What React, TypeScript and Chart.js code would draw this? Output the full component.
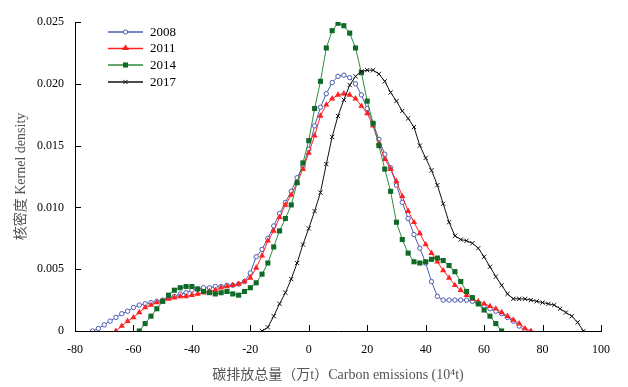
import { useEffect, useRef } from 'react';
import { Chart, registerables } from 'chart.js';

Chart.register(...registerables);

// ---- data (x: carbon emissions 10^4 t, y: kernel density) ----
const SERIES_NAMES = ['2008', '2011', '2014', '2017'];
const X_MIN = -80;
const X_MAX = 100;
const X_STEP = 20;
const Y_MIN = 0;
const Y_MAX = 0.025;
const Y_STEP = 0.005;

const D2008: [number, number][] = [
  [-74, 0], [-72, 0.0002], [-70, 0.0005], [-68, 0.0008], [-66, 0.0011], [-64, 0.0014], [-62, 0.0016],
  [-60, 0.0019], [-58, 0.0021], [-56, 0.0022], [-54, 0.0023], [-52, 0.0024], [-50, 0.0025], [-48, 0.0027],
  [-46, 0.0028], [-44, 0.003], [-42, 0.0031], [-40, 0.0033], [-38, 0.0034], [-36, 0.0035], [-34, 0.0035],
  [-32, 0.0036], [-30, 0.0036], [-28, 0.0037], [-26, 0.0037], [-24, 0.0038], [-22, 0.004], [-20, 0.0047],
  [-18, 0.006], [-16, 0.0066], [-14, 0.0075], [-12, 0.0085], [-10, 0.0095], [-8, 0.0104], [-6, 0.0113],
  [-4, 0.0124], [-2, 0.0133], [0, 0.0147], [2, 0.0166], [4, 0.0181], [6, 0.0192], [8, 0.0201], [10, 0.0206],
  [12, 0.0207], [14, 0.0205], [16, 0.02], [18, 0.0191], [20, 0.018], [22, 0.0168], [24, 0.0155], [26, 0.0143],
  [28, 0.0132], [30, 0.0118], [32, 0.0104], [34, 0.0091], [36, 0.0078], [38, 0.0067], [40, 0.0055], [42, 0.004],
  [44, 0.0028], [46, 0.0025], [48, 0.0025], [50, 0.0025], [52, 0.0025], [54, 0.0025], [56, 0.0024], [58, 0.0022],
  [60, 0.002], [62, 0.0018], [64, 0.0016], [66, 0.0014], [68, 0.0011], [70, 0.0008], [72, 0.0004], [74, 0],
];

const D2011: [number, number][] = [
  [-66, 0], [-64, 0.0004], [-62, 0.0008], [-60, 0.0011], [-58, 0.0015], [-56, 0.0019], [-54, 0.0021],
  [-52, 0.0023], [-50, 0.0024], [-48, 0.0026], [-46, 0.0027], [-44, 0.0028], [-42, 0.0028], [-40, 0.0029],
  [-38, 0.003], [-36, 0.0031], [-34, 0.0032], [-32, 0.0033], [-30, 0.0035], [-28, 0.0036], [-26, 0.0037],
  [-24, 0.0038], [-22, 0.004], [-20, 0.0043], [-18, 0.0051], [-16, 0.0061], [-14, 0.0073], [-12, 0.0081],
  [-10, 0.0092], [-8, 0.0102], [-6, 0.011], [-4, 0.012], [-2, 0.0131], [0, 0.0144], [2, 0.0158], [4, 0.0174],
  [6, 0.0183], [8, 0.0188], [10, 0.0191], [12, 0.0192], [14, 0.0191], [16, 0.0188], [18, 0.0182], [20, 0.0176],
  [22, 0.0166], [24, 0.0152], [26, 0.0139], [28, 0.0131], [30, 0.0121], [32, 0.0109], [34, 0.0097], [36, 0.0088],
  [38, 0.0079], [40, 0.007], [42, 0.0063], [44, 0.0056], [46, 0.0049], [48, 0.0043], [50, 0.0037], [52, 0.0033],
  [54, 0.0029], [56, 0.0026], [58, 0.0024], [60, 0.0022], [62, 0.002], [64, 0.0018], [66, 0.0015], [68, 0.0012],
  [70, 0.0009], [72, 0.0006], [74, 0.0002], [76, 0],
];

const D2014: [number, number][] = [
  [-58, 0], [-56, 0.0006], [-54, 0.0012], [-52, 0.0018], [-50, 0.0024], [-48, 0.0029], [-46, 0.0033],
  [-44, 0.0035], [-42, 0.0036], [-40, 0.0036], [-38, 0.0034], [-36, 0.0032], [-34, 0.0031], [-32, 0.003],
  [-30, 0.0031], [-28, 0.0032], [-26, 0.003], [-24, 0.0029], [-22, 0.0032], [-20, 0.0035], [-18, 0.0039],
  [-16, 0.0046], [-14, 0.0055], [-12, 0.0068], [-10, 0.0081], [-8, 0.0091], [-6, 0.0102], [-4, 0.012],
  [-2, 0.0136], [0, 0.0154], [2, 0.018], [4, 0.0202], [6, 0.0229], [8, 0.0243], [10, 0.0249], [12, 0.0247],
  [14, 0.0241], [16, 0.0229], [18, 0.0209], [20, 0.0186], [22, 0.0168], [24, 0.015], [26, 0.0131], [28, 0.0113],
  [30, 0.0088], [32, 0.0074], [34, 0.0063], [36, 0.0056], [38, 0.0055], [40, 0.0056], [42, 0.0058], [44, 0.0059],
  [46, 0.0057], [48, 0.0053], [50, 0.0048], [52, 0.004], [54, 0.0032], [56, 0.0027], [58, 0.0022], [60, 0.0017],
  [62, 0.0012], [64, 0.0006], [66, 0],
];

const D2017: [number, number][] = [
  [-16, 0], [-14, 0.0003], [-12, 0.0012], [-10, 0.0022], [-8, 0.0031], [-6, 0.0042], [-4, 0.0055], [-2, 0.007],
  [0, 0.0083], [2, 0.0097], [4, 0.0112], [6, 0.0135], [8, 0.0157], [10, 0.0174], [12, 0.0187], [14, 0.0199],
  [16, 0.0206], [18, 0.021], [20, 0.0211], [22, 0.0211], [24, 0.0208], [26, 0.0202], [28, 0.0193], [30, 0.0186],
  [32, 0.0178], [34, 0.0172], [36, 0.0165], [38, 0.015], [40, 0.014], [42, 0.013], [44, 0.0118], [46, 0.0103],
  [48, 0.0088], [50, 0.0077], [52, 0.0074], [54, 0.0073], [56, 0.0071], [58, 0.0067], [60, 0.006], [62, 0.0052],
  [64, 0.0044], [66, 0.0037], [68, 0.003], [70, 0.0026], [72, 0.0026], [74, 0.0026], [76, 0.0025], [78, 0.0024],
  [80, 0.0023], [82, 0.0022], [84, 0.0021], [86, 0.0018], [88, 0.0015], [90, 0.0012], [92, 0.0007], [94, 0],
];

const X_TITLE = '碳排放总量（万t）Carbon emissions (10⁴t)';
const Y_TITLE = '核密度 Kernel density';

const FONT = "'Times New Roman', 'Liberation Serif', 'Noto Sans CJK SC', serif";

const STYLES = [
  { line: '#4B5BB0', point: '#4B5BB0', fill: '#ffffff', shape: 'circle', r: 2.2 },
  { line: '#FF2020', point: '#FF2020', fill: '#FF2020', shape: 'triangle', r: 3.6 },
  { line: '#2E8B3E', point: '#0E6A26', fill: '#0E6A26', shape: 'rect', r: 3.6 },
  { line: '#111111', point: '#111111', fill: '#111111', shape: 'crossRot', r: 3 },
];

function drawMarker(ctx: CanvasRenderingContext2D, shape: string, x: number, y: number, r: number, stroke: string, fill: string) {
  ctx.save();
  ctx.strokeStyle = stroke;
  ctx.fillStyle = fill;
  ctx.lineWidth = 1;
  ctx.beginPath();
  if (shape === 'circle') {
    ctx.arc(x, y, r, 0, Math.PI * 2);
    ctx.fill();
    ctx.stroke();
  } else if (shape === 'triangle') {
    const h = r * 1.5;
    ctx.moveTo(x, y - r * 1.1);
    ctx.lineTo(x + r, y + h - r * 1.1);
    ctx.lineTo(x - r, y + h - r * 1.1);
    ctx.closePath();
    ctx.fill();
  } else if (shape === 'rect') {
    const s = r * Math.SQRT1_2;
    ctx.rect(x - s, y - s, 2 * s, 2 * s);
    ctx.fill();
  } else {
    const s = r * Math.SQRT1_2;
    ctx.moveTo(x - s, y - s);
    ctx.lineTo(x + s, y + s);
    ctx.moveTo(x + s, y - s);
    ctx.lineTo(x - s, y + s);
    ctx.stroke();
  }
  ctx.restore();
}

export default function App() {
  const ref = useRef<HTMLCanvasElement>(null);

  useEffect(() => {
    if (!ref.current) return;
    const all = [D2008, D2011, D2014, D2017];

    const inwardTicks = {
      id: 'inwardTicks',
      beforeDatasetsDraw(chart: any) {
        const { ctx, chartArea, scales } = chart;
        ctx.save();
        ctx.strokeStyle = '#000';
        ctx.lineWidth = 1;
        scales.x.ticks.forEach((t: any) => {
          const px = Math.round(scales.x.getPixelForValue(t.value)) + 0.5;
          ctx.beginPath();
          ctx.moveTo(px, chartArea.bottom);
          ctx.lineTo(px, chartArea.bottom - 6);
          ctx.stroke();
        });
        scales.y.ticks.forEach((t: any) => {
          const py = Math.round(scales.y.getPixelForValue(t.value)) + 0.5;
          ctx.beginPath();
          ctx.moveTo(chartArea.left, py);
          ctx.lineTo(chartArea.left + 6, py);
          ctx.stroke();
        });
        ctx.restore();
      },
    };

    const legend = {
      id: 'customLegend',
      afterDraw(chart: any) {
        const { ctx } = chart;
        const x0 = 108;
        const x1 = 143;
        const rows = [32, 48.5, 65, 82];
        ctx.save();
        SERIES_NAMES.forEach((name, i) => {
          const st = STYLES[i];
          const y = rows[i];
          ctx.strokeStyle = st.line;
          ctx.lineWidth = 1.5;
          ctx.beginPath();
          ctx.moveTo(x0, y);
          ctx.lineTo(x1, y);
          ctx.stroke();
          drawMarker(ctx, st.shape, (x0 + x1) / 2, y, st.r, st.point, st.fill);
          ctx.fillStyle = '#000';
          ctx.font = `13px ${FONT}`;
          ctx.textAlign = 'left';
          ctx.textBaseline = 'middle';
          ctx.fillText(name, 150, y + 0.5);
        });
        ctx.restore();
      },
    };

    const chart = new Chart(ref.current, {
      type: 'line',
      data: {
        datasets: all.map((d, i) => ({
          label: SERIES_NAMES[i],
          data: d.map(([x, y]) => ({ x, y })),
          borderColor: STYLES[i].line,
          borderWidth: 1,
          pointStyle: STYLES[i].shape as any,
          pointRadius: STYLES[i].r,
          pointBorderColor: STYLES[i].point,
          pointBackgroundColor: STYLES[i].fill,
          pointBorderWidth: i === 0 || i === 3 ? 1 : 0,
          fill: false,
          tension: 0,
          order: 4 - i,
        })),
      },
      options: {
        responsive: false,
        animation: false,
        events: [],
        layout: { padding: { top: 22, right: 27, left: 0, bottom: 0 } },
        plugins: { legend: { display: false }, tooltip: { enabled: false } },
        scales: {
          x: {
            type: 'linear',
            min: X_MIN,
            max: X_MAX,
            ticks: {
              stepSize: X_STEP,
              padding: 12,
              color: '#000',
              font: { family: FONT, size: 12 },
              callback: (v: any) => String(v),
            },
            grid: { display: false, drawTicks: false },
            border: { display: true, color: '#000', width: 1 },
            title: {
              display: true,
              text: X_TITLE,
              color: '#555',
              font: { family: FONT, size: 14 },
              padding: { top: 0, bottom: 3 },
            },
            afterFit: (s: any) => {
              s.height = 56;
            },
          },
          y: {
            type: 'linear',
            min: Y_MIN,
            max: Y_MAX,
            ticks: {
              stepSize: Y_STEP,
              padding: 11,
              color: '#000',
              font: { family: FONT, size: 12 },
              callback: (v: any) => (Number(v) === 0 ? '0' : Number(v).toFixed(3)),
            },
            grid: { display: false, drawTicks: false },
            border: { display: true, color: '#000', width: 1 },
            title: {
              display: true,
              text: Y_TITLE,
              color: '#555',
              font: { family: FONT, size: 14 },
              padding: { top: 13, bottom: 0 },
            },
            afterFit: (s: any) => {
              s.width = 75;
            },
          },
        },
      },
      plugins: [inwardTicks, legend],
    });

    return () => chart.destroy();
  }, []);

  return (
    <div style={{ position: 'fixed', left: 0, top: 0, width: 628, height: 387, background: '#fff' }}>
      <canvas ref={ref} width={628} height={387} style={{ width: 628, height: 387, display: 'block' }} />
    </div>
  );
}
